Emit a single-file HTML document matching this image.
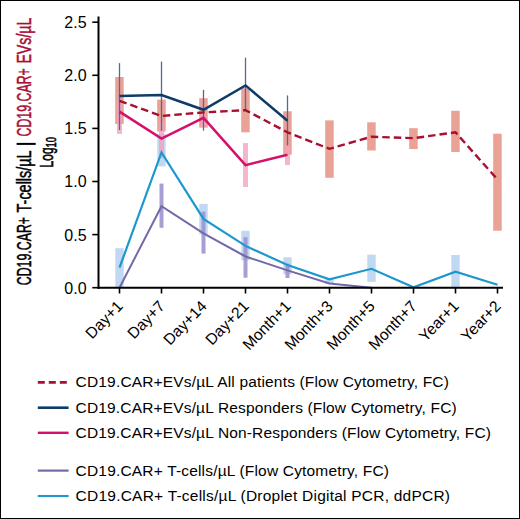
<!DOCTYPE html>
<html><head><meta charset="utf-8"><style>
html,body{margin:0;padding:0;background:#fff}
.frame{position:relative;width:520px;height:519px;box-sizing:border-box;border:1px solid #000;overflow:hidden;background:#fff}
svg{position:absolute;left:-1px;top:-1px}
text{font-family:"Liberation Sans",sans-serif;fill:#000}
.tk{font-size:16px}
.xl{font-size:15.6px}
.lg{font-size:15.5px;letter-spacing:0.18px}
.yl{font-size:20px;stroke:#000;stroke-width:0.5px}
.yl2{font-size:19px;stroke:#000;stroke-width:0.6px}
.sub{font-size:15px}
</style></head><body><div class="frame">
<svg width="520" height="519" viewBox="0 0 520 519">
<rect x="115.3" y="248.2" width="8.4" height="39.5" fill="#b9d4f0" opacity="0.9"/>
<rect x="157.3" y="133.9" width="8.4" height="32.4" fill="#b9d4f0" opacity="0.9"/>
<rect x="199.3" y="203.9" width="8.4" height="30.4" fill="#b9d4f0" opacity="0.9"/>
<rect x="241.3" y="230.8" width="8.4" height="29.5" fill="#b9d4f0" opacity="0.9"/>
<rect x="283.3" y="257.3" width="8.4" height="16.9" fill="#b9d4f0" opacity="0.9"/>
<rect x="325.3" y="279.0" width="8.4" height="5.0" fill="#b9d4f0" opacity="0.9"/>
<rect x="367.3" y="254.7" width="8.4" height="27.1" fill="#b9d4f0" opacity="0.9"/>
<rect x="451.3" y="255.0" width="8.4" height="32.0" fill="#b9d4f0" opacity="0.9"/>
<rect x="159.5" y="183.6" width="4.0" height="44.2" fill="#9d93cf" opacity="0.9"/>
<rect x="201.5" y="211.6" width="4.0" height="42.0" fill="#9d93cf" opacity="0.9"/>
<rect x="243.5" y="237.2" width="4.0" height="40.5" fill="#9d93cf" opacity="0.9"/>
<rect x="285.5" y="263.7" width="4.0" height="14.3" fill="#9d93cf" opacity="0.9"/>
<rect x="115.2" y="77.0" width="8.5" height="47.0" fill="#e69184" opacity="0.85"/>
<rect x="157.2" y="99.6" width="8.5" height="31.9" fill="#e69184" opacity="0.85"/>
<rect x="199.2" y="98.2" width="8.5" height="29.4" fill="#e69184" opacity="0.85"/>
<rect x="241.2" y="88.2" width="8.5" height="44.1" fill="#e69184" opacity="0.85"/>
<rect x="283.2" y="111.3" width="8.5" height="43.4" fill="#e69184" opacity="0.85"/>
<rect x="325.2" y="120.4" width="8.5" height="57.4" fill="#e69184" opacity="0.85"/>
<rect x="367.2" y="122.3" width="8.5" height="28.2" fill="#e69184" opacity="0.85"/>
<rect x="409.2" y="128.2" width="8.5" height="20.8" fill="#e69184" opacity="0.85"/>
<rect x="451.2" y="110.8" width="8.5" height="41.2" fill="#e69184" opacity="0.85"/>
<rect x="493.2" y="133.7" width="8.5" height="97.0" fill="#e69184" opacity="0.85"/>
<rect x="117.0" y="100.0" width="5.0" height="33.9" fill="#f2a3c2" opacity="0.8"/>
<rect x="159.0" y="121.8" width="5.0" height="36.2" fill="#f2a3c2" opacity="0.8"/>
<rect x="201.0" y="112.0" width="5.0" height="15.0" fill="#f2a3c2" opacity="0.8"/>
<rect x="243.0" y="143.1" width="5.0" height="43.9" fill="#f2a3c2" opacity="0.8"/>
<rect x="285.0" y="144.6" width="5.0" height="20.5" fill="#f2a3c2" opacity="0.8"/>
<line x1="119.5" y1="63.1" x2="119.5" y2="130.0" stroke="#56679a" stroke-width="1.3"/>
<line x1="161.5" y1="61.6" x2="161.5" y2="130.8" stroke="#56679a" stroke-width="1.3"/>
<line x1="203.5" y1="89.8" x2="203.5" y2="130.6" stroke="#56679a" stroke-width="1.3"/>
<line x1="245.5" y1="57.7" x2="245.5" y2="110.0" stroke="#56679a" stroke-width="1.3"/>
<line x1="287.5" y1="95.4" x2="287.5" y2="145.5" stroke="#56679a" stroke-width="1.3"/>
<polyline points="119.5,287.7 161.5,206.2 203.5,233.4 245.5,256.5 287.5,270.4 329.5,283.4 371.5,287.7" fill="none" stroke="#7369a8" stroke-width="2.0" stroke-linejoin="miter" />
<polyline points="119.5,267.7 161.5,152.4 203.5,218.9 245.5,245.9 287.5,265.0 329.5,279.4 371.5,268.8 413.5,287.2 455.5,271.7 497.5,284.7" fill="none" stroke="#1d98cf" stroke-width="2.2" stroke-linejoin="miter" />
<polyline points="119.5,111.6 161.5,138.5 203.5,117.8 245.5,165.2 287.5,154.7" fill="none" stroke="#d5106b" stroke-width="2.5" stroke-linejoin="miter" />
<polyline points="119.5,95.9 161.5,95.1 203.5,109.8 245.5,85.4 287.5,120.8" fill="none" stroke="#0f3b68" stroke-width="2.5" stroke-linejoin="miter" />
<polyline points="119.5,100.8 161.5,116.0 203.5,112.4 245.5,110.1 287.5,132.4 329.5,148.8 371.5,136.7 413.5,138.2 455.5,132.3 497.5,179.5" fill="none" stroke="#a80f30" stroke-width="2.4" stroke-linejoin="miter" stroke-dasharray="7.5 4"/>
<line x1="98.5" y1="16.5" x2="98.5" y2="288.7" stroke="#000" stroke-width="2"/>
<line x1="97.5" y1="287.7" x2="503" y2="287.7" stroke="#000" stroke-width="2"/>
<line x1="92.3" y1="287.7" x2="98.5" y2="287.7" stroke="#000" stroke-width="1.6"/>
<text x="86.6" y="293.6" text-anchor="end" class="tk">0.0</text>
<line x1="92.3" y1="234.6" x2="98.5" y2="234.6" stroke="#000" stroke-width="1.6"/>
<text x="86.6" y="240.5" text-anchor="end" class="tk">0.5</text>
<line x1="92.3" y1="181.5" x2="98.5" y2="181.5" stroke="#000" stroke-width="1.6"/>
<text x="86.6" y="187.4" text-anchor="end" class="tk">1.0</text>
<line x1="92.3" y1="128.4" x2="98.5" y2="128.4" stroke="#000" stroke-width="1.6"/>
<text x="86.6" y="134.3" text-anchor="end" class="tk">1.5</text>
<line x1="92.3" y1="75.3" x2="98.5" y2="75.3" stroke="#000" stroke-width="1.6"/>
<text x="86.6" y="81.2" text-anchor="end" class="tk">2.0</text>
<line x1="92.3" y1="22.2" x2="98.5" y2="22.2" stroke="#000" stroke-width="1.6"/>
<text x="86.6" y="28.1" text-anchor="end" class="tk">2.5</text>
<line x1="119.5" y1="287.7" x2="119.5" y2="293.5" stroke="#000" stroke-width="1.6"/>
<text x="123.7" y="307.0" text-anchor="end" transform="rotate(-46 123.7 307.0)" class="xl">Day+1</text>
<line x1="161.5" y1="287.7" x2="161.5" y2="293.5" stroke="#000" stroke-width="1.6"/>
<text x="165.7" y="307.0" text-anchor="end" transform="rotate(-46 165.7 307.0)" class="xl">Day+7</text>
<line x1="203.5" y1="287.7" x2="203.5" y2="293.5" stroke="#000" stroke-width="1.6"/>
<text x="207.7" y="307.0" text-anchor="end" transform="rotate(-46 207.7 307.0)" class="xl">Day+14</text>
<line x1="245.5" y1="287.7" x2="245.5" y2="293.5" stroke="#000" stroke-width="1.6"/>
<text x="249.7" y="307.0" text-anchor="end" transform="rotate(-46 249.7 307.0)" class="xl">Day+21</text>
<line x1="287.5" y1="287.7" x2="287.5" y2="293.5" stroke="#000" stroke-width="1.6"/>
<text x="291.7" y="307.0" text-anchor="end" transform="rotate(-46 291.7 307.0)" class="xl">Month+1</text>
<line x1="329.5" y1="287.7" x2="329.5" y2="293.5" stroke="#000" stroke-width="1.6"/>
<text x="333.7" y="307.0" text-anchor="end" transform="rotate(-46 333.7 307.0)" class="xl">Month+3</text>
<line x1="371.5" y1="287.7" x2="371.5" y2="293.5" stroke="#000" stroke-width="1.6"/>
<text x="375.7" y="307.0" text-anchor="end" transform="rotate(-46 375.7 307.0)" class="xl">Month+5</text>
<line x1="413.5" y1="287.7" x2="413.5" y2="293.5" stroke="#000" stroke-width="1.6"/>
<text x="417.7" y="307.0" text-anchor="end" transform="rotate(-46 417.7 307.0)" class="xl">Month+7</text>
<line x1="455.5" y1="287.7" x2="455.5" y2="293.5" stroke="#000" stroke-width="1.6"/>
<text x="459.7" y="307.0" text-anchor="end" transform="rotate(-46 459.7 307.0)" class="xl">Year+1</text>
<line x1="497.5" y1="287.7" x2="497.5" y2="293.5" stroke="#000" stroke-width="1.6"/>
<text x="501.7" y="307.0" text-anchor="end" transform="rotate(-46 501.7 307.0)" class="xl">Year+2</text>
<text transform="translate(30.8 285.2) rotate(-90)" class="yl" textLength="68.2" lengthAdjust="spacingAndGlyphs">CD19.CAR+</text>
<text transform="translate(30.8 212.4) rotate(-90)" class="yl" textLength="62" lengthAdjust="spacingAndGlyphs">T-cells/µL</text>
<rect x="16.6" y="142.9" width="19.1" height="2.0" fill="#000"/>
<text transform="translate(30.8 136.5) rotate(-90)" class="yl" style="fill:#a80f37;stroke:#a80f37" textLength="68.3" lengthAdjust="spacingAndGlyphs">CD19.CAR+</text>
<text transform="translate(30.8 63.6) rotate(-90)" class="yl" style="fill:#a80f37;stroke:#a80f37" textLength="46" lengthAdjust="spacingAndGlyphs">EVs/µL</text>
<text transform="translate(52.8 167.4) rotate(-90) scale(0.63 1)" class="yl2">Log<tspan class="sub" dy="3.6">10</tspan></text>
<line x1="37.8" y1="382.4" x2="68.6" y2="382.4" stroke="#a80f30" stroke-width="2.6" stroke-dasharray="7 4"/>
<text x="75.6" y="387.4" class="lg" style="letter-spacing:0.17px">CD19.CAR+EVs/µL All patients (Flow Cytometry, FC)</text>
<line x1="37.8" y1="407.7" x2="68.6" y2="407.7" stroke="#0f3b68" stroke-width="2.6" />
<text x="75.6" y="412.7" class="lg" style="letter-spacing:0.16px">CD19.CAR+EVs/µL Responders (Flow Cytometry, FC)</text>
<line x1="37.8" y1="432.8" x2="68.6" y2="432.8" stroke="#d5106b" stroke-width="2.4" />
<text x="75.6" y="437.8" class="lg" style="letter-spacing:0.16px">CD19.CAR+EVs/µL Non-Responders (Flow Cytometry, FC)</text>
<line x1="37.8" y1="470.6" x2="68.6" y2="470.6" stroke="#7369a8" stroke-width="2.2" />
<text x="75.6" y="475.6" class="lg" style="letter-spacing:0.18px">CD19.CAR+ T-cells/µL (Flow Cytometry, FC)</text>
<line x1="37.8" y1="496.0" x2="68.6" y2="496.0" stroke="#1d98cf" stroke-width="2.1" />
<text x="75.6" y="501.0" class="lg" style="letter-spacing:0.23px">CD19.CAR+ T-cells/µL (Droplet Digital PCR, ddPCR)</text>
</svg></div></body></html>
